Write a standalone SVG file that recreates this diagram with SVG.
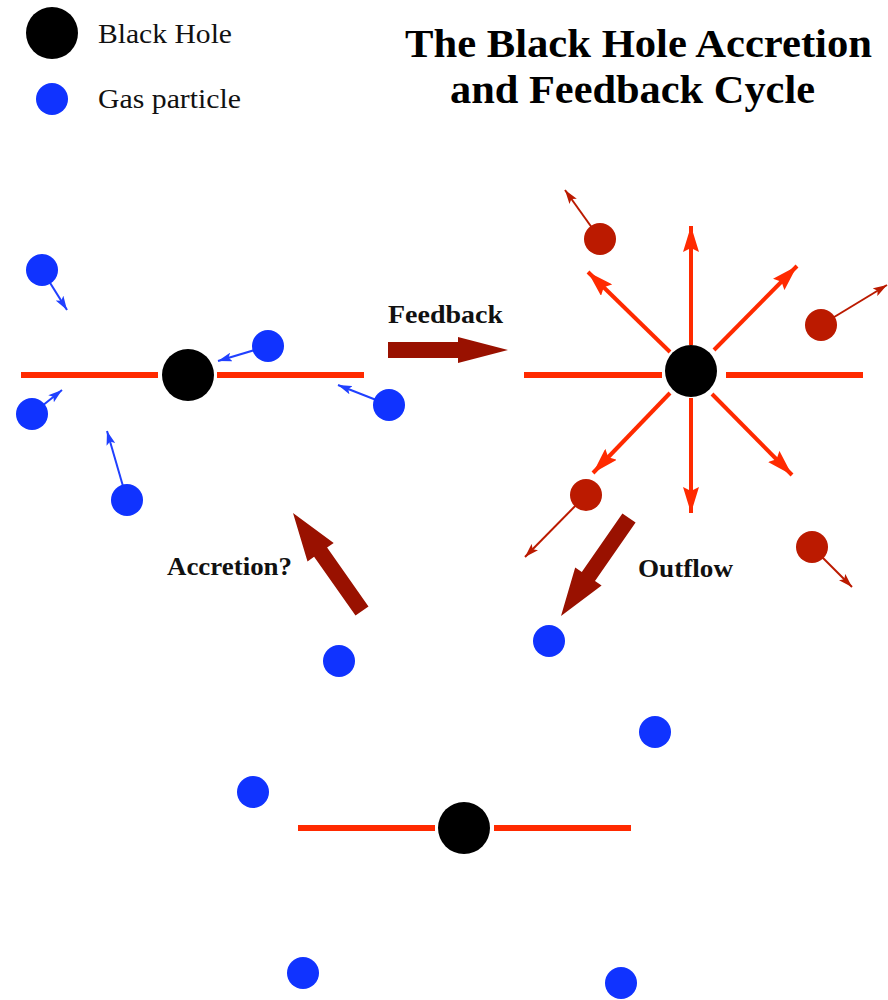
<svg xmlns="http://www.w3.org/2000/svg" width="888" height="1000" viewBox="0 0 888 1000">
<style>
.bh{fill:#000}
.gas{fill:#1033ff}
.hot{fill:#bb1a00}
.disk{stroke:#ff2a00;stroke-width:6;fill:none}
.ray{stroke:#ff2a00;stroke-width:4;fill:none;marker-end:url(#rayHead)}
.gv{stroke:#2040ff;stroke-width:2;fill:none;marker-end:url(#gasHead)}
.hv{stroke:#bb1a00;stroke-width:2;fill:none;marker-end:url(#hotHead)}
.big{fill:#991100}
.lg{font-family:"Liberation Serif","Times New Roman",serif;font-size:27px;fill:#111}
.title{font-family:"Liberation Serif","Times New Roman",serif;font-weight:bold;font-size:41px;fill:#000}
.lbl{font-family:"Liberation Serif","Times New Roman",serif;font-weight:bold;font-size:25px;fill:#111}
</style>
<defs>
<marker id="rayHead" markerUnits="userSpaceOnUse" viewBox="0 0 26 16" markerWidth="26" markerHeight="16" refX="26" refY="8" orient="auto">
<path d="M0,0 L26,8 L0,16 L4,8 z" fill="#ff2a00"/>
</marker>
<marker id="gasHead" markerUnits="userSpaceOnUse" viewBox="0 0 14 9" markerWidth="14" markerHeight="9" refX="14" refY="4.5" orient="auto">
<path d="M0,0 L14,4.5 L0,9 L3,4.5 z" fill="#2040ff"/>
</marker>
<marker id="hotHead" markerUnits="userSpaceOnUse" viewBox="0 0 14 9" markerWidth="14" markerHeight="9" refX="14" refY="4.5" orient="auto">
<path d="M0,0 L14,4.5 L0,9 L3,4.5 z" fill="#bb1a00"/>
</marker>
</defs>
<rect width="888" height="1000" fill="#fff"/>

<g id="legend">
<circle class="bh" cx="52" cy="33" r="26"/>
<text class="lg" x="98" y="43" textLength="134" lengthAdjust="spacingAndGlyphs">Black Hole</text>
<circle class="gas" cx="52" cy="99" r="16"/>
<text class="lg" x="98" y="108" textLength="143" lengthAdjust="spacingAndGlyphs">Gas particle</text>
</g>

<g id="title">
<text class="title" x="405" y="57" textLength="467" lengthAdjust="spacingAndGlyphs">The Black Hole Accretion</text>
<text class="title" x="450" y="103" textLength="365" lengthAdjust="spacingAndGlyphs">and Feedback Cycle</text>
</g>

<g id="connectors">
<!-- disks -->
<line class="disk" x1="21" y1="375" x2="158" y2="375"/>
<line class="disk" x1="217" y1="375" x2="364" y2="375"/>
<line class="disk" x1="524" y1="375" x2="662" y2="375"/>
<line class="disk" x1="726" y1="375" x2="863" y2="375"/>
<line class="disk" x1="298" y1="828" x2="435" y2="828"/>
<line class="disk" x1="494" y1="828" x2="631" y2="828"/>
<!-- gas velocity arrows -->
<line class="gv" x1="42" y1="270" x2="67" y2="310"/>
<line class="gv" x1="268" y1="346" x2="218" y2="361"/>
<line class="gv" x1="32" y1="414" x2="62" y2="390"/>
<line class="gv" x1="389" y1="405" x2="338" y2="385"/>
<line class="gv" x1="127" y1="500" x2="107" y2="431"/>
<!-- outflow rays -->
<line class="ray" x1="691" y1="345" x2="691" y2="226"/>
<line class="ray" x1="691" y1="398" x2="691" y2="513"/>
<line class="ray" x1="670" y1="352" x2="588" y2="272"/>
<line class="ray" x1="714" y1="350" x2="797" y2="266"/>
<line class="ray" x1="670" y1="393" x2="593" y2="473"/>
<line class="ray" x1="712" y1="394" x2="792" y2="475"/>
<!-- hot particle velocity arrows -->
<line class="hv" x1="600" y1="239" x2="565" y2="190"/>
<line class="hv" x1="821" y1="325" x2="887" y2="285"/>
<line class="hv" x1="586" y1="495" x2="525" y2="557"/>
<line class="hv" x1="812" y1="547" x2="852" y2="587"/>
<!-- cycle arrows -->
<polygon class="big" points="388,342 458,342 458,337 508,350 458,363 458,358 388,358"/>
<polygon class="big" points="368.5,606.4 327.1,547.6 333.7,543 293,513 307.5,561.4 314.1,556.8 355.5,615.6"/>
<polygon class="big" points="635.6,522.6 595,581.1 601.6,585.6 561,616 575.2,567.4 581.8,571.9 622.4,513.4"/>
</g>

<g id="label-feedback"><text class="lbl" x="388" y="323" textLength="115" lengthAdjust="spacingAndGlyphs">Feedback</text></g>
<g id="label-accretion"><text class="lbl" x="167" y="575" textLength="125" lengthAdjust="spacingAndGlyphs">Accretion?</text></g>
<g id="label-outflow"><text class="lbl" x="638" y="577" textLength="95" lengthAdjust="spacingAndGlyphs">Outflow</text></g>

<g id="panel-accretion">
<circle class="bh" cx="188" cy="375" r="26"/>
<circle class="gas" cx="42" cy="270" r="16"/>
<circle class="gas" cx="268" cy="346" r="16"/>
<circle class="gas" cx="32" cy="414" r="16"/>
<circle class="gas" cx="389" cy="405" r="16"/>
<circle class="gas" cx="127" cy="500" r="16"/>
</g>

<g id="panel-feedback">
<circle class="bh" cx="691" cy="371" r="26"/>
<circle class="hot" cx="600" cy="239" r="16"/>
<circle class="hot" cx="821" cy="325" r="16"/>
<circle class="hot" cx="586" cy="495" r="16"/>
<circle class="hot" cx="812" cy="547" r="16"/>
</g>

<g id="panel-quiescent">
<circle class="bh" cx="464" cy="828" r="26"/>
<circle class="gas" cx="339" cy="661" r="16"/>
<circle class="gas" cx="549" cy="641" r="16"/>
<circle class="gas" cx="655" cy="732" r="16"/>
<circle class="gas" cx="253" cy="792" r="16"/>
<circle class="gas" cx="303" cy="973" r="16"/>
<circle class="gas" cx="621" cy="983" r="16"/>
</g>
</svg>
